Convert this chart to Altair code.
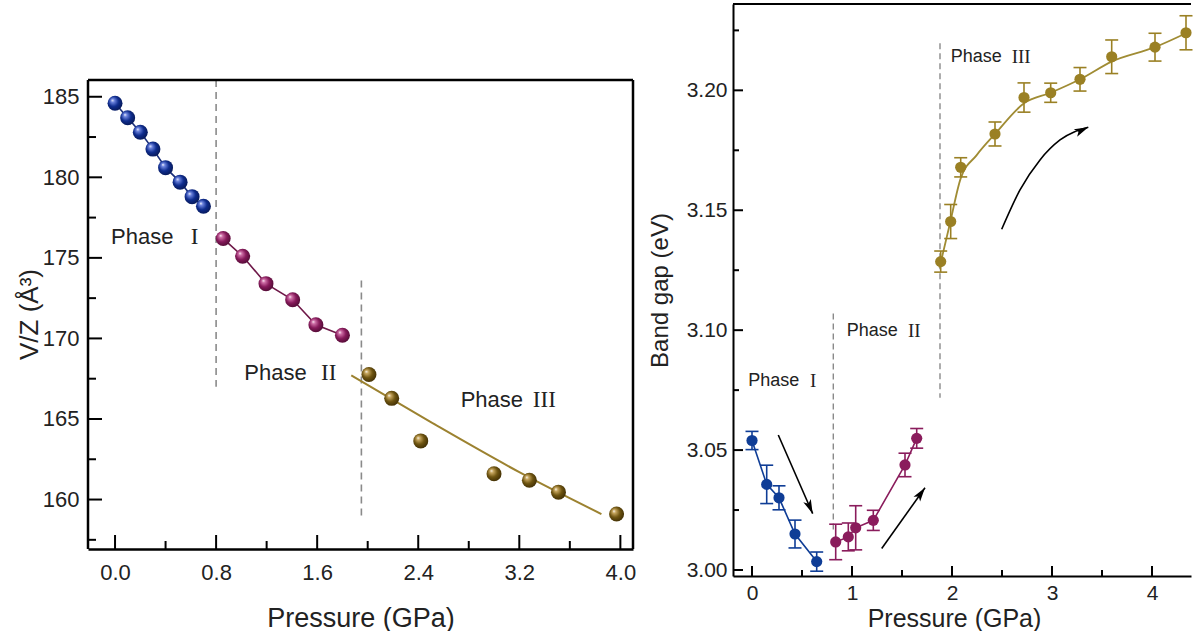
import math
import altair as alt
import pandas as pd

# ---------------- data: left panel (V/Z vs pressure) ----------------
L1_P = [0.0, 0.10, 0.20, 0.30, 0.40, 0.515, 0.61, 0.70]
L1_V = [184.6, 183.7, 182.8, 181.75, 180.6, 179.7, 178.8, 178.2]
L2_P = [0.856, 1.01, 1.195, 1.406, 1.59, 1.80]
L2_V = [176.2, 175.1, 173.4, 172.4, 170.85, 170.2]
L3_P = [2.01, 2.19, 2.42, 3.0, 3.28, 3.51, 3.97]
L3_V = [167.76, 166.28, 163.64, 161.6, 161.2, 160.46, 159.1]
LFIT_P = [1.87, 2.5, 3.2, 3.85]
LFIT_V = [167.7, 164.8, 161.7, 159.1]
L_DASH_P = [0.80, 1.95]
L_DASH_TOP = [186.04, 173.6]
L_DASH_BOT = [167.0, 159.0]
L_XTICKS = [0.0, 0.8, 1.6, 2.4, 3.2, 4.0]
L_XMINOR = [0.4, 1.2, 2.0, 2.8, 3.6]
L_YTICKS = [160, 165, 170, 175, 180, 185]
L_YMINOR = [157.5, 162.5, 167.5, 172.5, 177.5, 182.5]
L_LAB_WORD = ["Phase", "Phase", "Phase"]
L_LAB_NUM = ["I", "II", "III"]
L_LAB_P = [-0.032, 1.023, 2.736]
L_LAB_NUM_P = [0.600, 1.631, 3.307]
L_LAB_V = [176.28, 167.87, 166.15]

# ---------------- data: right panel (band gap vs pressure) ----------------
R1_P = [0.0, 0.147, 0.27, 0.43, 0.647]
R1_E = [3.054, 3.0357, 3.0301, 3.015, 3.0035]
R1_ERR = [0.0038, 0.008, 0.005, 0.0058, 0.004]
R2_P = [0.837, 0.963, 1.037, 1.213, 1.53, 1.647]
R2_E = [3.0117, 3.0138, 3.0176, 3.0207, 3.0438, 3.0549]
R2_ERR = [0.0074, 0.0058, 0.0092, 0.0042, 0.0049, 0.0041]
R3_P = [1.887, 1.987, 2.087, 2.43, 2.72, 2.987, 3.28, 3.597, 4.03, 4.34]
R3_E = [3.1286, 3.1453, 3.1679, 3.1818, 3.197, 3.199, 3.2046, 3.214, 3.218, 3.224]
R3_ERR = [0.0044, 0.0071, 0.004, 0.005, 0.0061, 0.004, 0.0049, 0.007, 0.0058, 0.0071]
RFIT_P = [1.875, 1.98, 2.087, 2.247, 2.43, 2.72, 2.987, 3.28, 3.597, 4.03, 4.34]
RFIT_E = [3.126, 3.1446, 3.1633, 3.173, 3.1818, 3.1946, 3.199, 3.2046, 3.212, 3.218, 3.2238]
R_DASH_P = [0.813, 1.88]
R_DASH_TOP = [3.107, 3.2196]
R_DASH_BOT = [3.016, 3.0718]
R_XTICKS = [0, 1, 2, 3, 4]
R_XMINOR = [0.5, 1.5, 2.5, 3.5]
R_YTICKS = [3.00, 3.05, 3.10, 3.15, 3.20]
R_YMINOR = [3.025, 3.075, 3.125, 3.175, 3.225]
R_LAB_NUM = ["I", "II", "III"]
R_LAB_P = [-0.037, 0.947, 1.987]
R_LAB_NUM_P = [0.58, 1.56, 2.597]
R_LAB_E = [3.079, 3.0996, 3.214]
# arrows: id, pressure, band gap (path in data coordinates)
ARROW_ID = [1, 1, 2, 2, 3, 3, 3, 3, 3]
ARROW_P = [0.263, 0.607, 1.297, 1.73, 2.497, 2.68, 2.88, 3.08, 3.363]
ARROW_E = [3.0563, 3.0235, 3.009, 3.0343, 3.1421, 3.1585, 3.171, 3.1793, 3.1846]

FONT = "Liberation Sans"
SERIF = "Liberation Serif"

# left panel: plot group starts at the top of the right panel; the framed box starts FT px lower
LW, LH, FT = 545, 545, 76
RW, RH = 458, 572
LXD = [-0.214, 4.10]
LYD = [156.93, 190.757]
RXD = [-0.19, 4.39]
RYD = [2.9975, 3.236]

lxs = alt.Scale(domain=LXD, nice=False, zero=False)
lys = alt.Scale(domain=LYD, nice=False, zero=False)
rxs = alt.Scale(domain=RXD, nice=False, zero=False)
rys = alt.Scale(domain=RYD, nice=False, zero=False)

l_xaxis = alt.Axis(values=L_XTICKS, format=".1f", ticks=False, tickSize=0, domain=True,
                   domainColor="black", domainWidth=2.5, grid=False, labelFontSize=22,
                   labelFont=FONT, labelColor="#222", labelPadding=13, labelFlush=False,
                   title="Pressure (GPa)", titleFont=FONT, titleFontSize=27,
                   titleFontWeight="normal", titleColor="#222", titlePadding=22)
l_yaxis = alt.Axis(values=L_YTICKS, format="d", ticks=False, tickSize=0, domain=False,
                   grid=False, labelFontSize=22,
                   labelFont=FONT, labelColor="#222", labelPadding=9, labelFlush=False,
                   title="V/Z (Å³)", titleFont=FONT, titleFontSize=26,
                   titleFontWeight="normal", titleColor="#222", titlePadding=0, titleY=310)
r_xaxis = alt.Axis(values=R_XTICKS, format="d", ticks=False, tickSize=0, domain=True,
                   domainColor="black", domainWidth=2, grid=False, labelFontSize=21,
                   labelFont=FONT, labelColor="#222", labelPadding=6, labelFlush=False,
                   title="Pressure (GPa)", titleFont=FONT, titleFontSize=25,
                   titleFontWeight="normal", titleColor="#222", titlePadding=3, titleX=221)
r_yaxis = alt.Axis(values=R_YTICKS, format=".2f", ticks=False, tickSize=0, domain=True,
                   domainColor="black", domainWidth=2, grid=False, labelFontSize=21,
                   labelFont=FONT, labelColor="#222", labelPadding=6, labelFlush=False,
                   title="Band gap (eV)", titleFont=FONT, titleFontSize=24,
                   titleFontWeight="normal", titleColor="#222", titlePadding=14)


def LX(f="x"):
    return alt.X(f + ":Q", scale=lxs, axis=l_xaxis)


def LY(f="y"):
    return alt.Y(f + ":Q", scale=lys, axis=l_yaxis)


def RX(f="x"):
    return alt.X(f + ":Q", scale=rxs, axis=r_xaxis)


def RY(f="y"):
    return alt.Y(f + ":Q", scale=rys, axis=r_yaxis)


def sphere(color, light, dark):
    return alt.Gradient(gradient="radial",
                        stops=[alt.GradientStop(color="#ffffff", offset=0.0),
                               alt.GradientStop(color=light, offset=0.18),
                               alt.GradientStop(color=color, offset=0.55),
                               alt.GradientStop(color=dark, offset=1.0)],
                        x1=0.32, y1=0.3, r1=0.0, x2=0.45, y2=0.45, r2=0.62)


# ---------------- left panel ----------------
ldf1 = pd.DataFrame({"x": L1_P, "y": L1_V})
ldf2 = pd.DataFrame({"x": L2_P, "y": L2_V})
ldf3 = pd.DataFrame({"x": L3_P, "y": L3_V})
lfit = pd.DataFrame({"x": LFIT_P, "y": LFIT_V})
ldash = pd.DataFrame({"x": L_DASH_P, "y": L_DASH_TOP, "y2": L_DASH_BOT})
llab = pd.DataFrame({"x": L_LAB_P, "xn": L_LAB_NUM_P, "y": L_LAB_V, "w": L_LAB_WORD, "n": L_LAB_NUM})

L_BLUE, L_PURP, L_BROWN = "#0e2c8e", "#86195a", "#6e5410"

left_layers = [
    alt.Chart(ldash).mark_rule(color="#8a8a8a", strokeWidth=1.6, strokeDash=[7, 5]).encode(
        x=LX(), y=LY(), y2="y2:Q"),
    alt.Chart(ldf1).mark_line(color="#1b2f7a", strokeWidth=1.6).encode(x=LX(), y=LY()),
    alt.Chart(ldf2).mark_line(color="#6e1848", strokeWidth=1.6).encode(x=LX(), y=LY()),
    alt.Chart(lfit).mark_line(color="#9c8230", strokeWidth=2, interpolate="monotone").encode(x=LX(), y=LY()),
]
for df, c, lt, dk in [(ldf1, L_BLUE, "#6f86e0", "#06164f"),
                      (ldf2, L_PURP, "#d070a8", "#4a0a30"),
                      (ldf3, L_BROWN, "#c9a860", "#3a2a04")]:
    left_layers.append(alt.Chart(df).mark_point(shape="circle", filled=True, size=225, opacity=1,
                                                fill=sphere(c, lt, dk), strokeWidth=0).encode(x=LX(), y=LY()))
left_layers += [
    alt.Chart(llab).mark_text(align="left", baseline="middle", font=FONT, fontSize=22, color="#222").encode(
        x=LX(), y=LY(), text="w:N"),
    alt.Chart(llab).mark_text(align="left", baseline="middle", font=SERIF, fontSize=23, color="#222").encode(
        x=LX("xn"), y=LY(), text="n:N"),
    # inward ticks
    alt.Chart(pd.DataFrame({"x": L_XTICKS})).mark_rule(color="black", strokeWidth=2).encode(
        x=LX(), y=alt.value(LH), y2=alt.value(LH - 14)),
    alt.Chart(pd.DataFrame({"x": L_XMINOR})).mark_rule(color="black", strokeWidth=2).encode(
        x=LX(), y=alt.value(LH), y2=alt.value(LH - 8)),
    alt.Chart(pd.DataFrame({"y": L_YTICKS})).mark_rule(color="black", strokeWidth=2).encode(
        y=LY(), x=alt.value(0), x2=alt.value(14)),
    alt.Chart(pd.DataFrame({"y": L_YMINOR})).mark_rule(color="black", strokeWidth=2).encode(
        y=LY(), x=alt.value(0), x2=alt.value(8)),
    # frame: top, left, right
    alt.Chart(pd.DataFrame({"y": [0]})).mark_rule(color="black", strokeWidth=2.5).encode(
        x=alt.value(0), x2=alt.value(LW), y=alt.value(FT)),
    alt.Chart(pd.DataFrame({"y": [0]})).mark_rule(color="black", strokeWidth=2.5).encode(
        x=alt.value(0), y=alt.value(FT), y2=alt.value(LH)),
    alt.Chart(pd.DataFrame({"y": [0]})).mark_rule(color="black", strokeWidth=2.5).encode(
        x=alt.value(LW), y=alt.value(FT), y2=alt.value(LH)),
]
left = alt.layer(*left_layers).properties(width=LW, height=LH)

# ---------------- right panel ----------------
def err_df(P, E, ERR):
    return pd.DataFrame({"x": P, "y": E, "lo": [e - d for e, d in zip(E, ERR)],
                         "hi": [e + d for e, d in zip(E, ERR)]})


rdf1 = err_df(R1_P, R1_E, R1_ERR)
rdf2 = err_df(R2_P, R2_E, R2_ERR)
rdf3 = err_df(R3_P, R3_E, R3_ERR)
rfit = pd.DataFrame({"x": RFIT_P, "y": RFIT_E})
rdash = pd.DataFrame({"x": R_DASH_P, "y": R_DASH_TOP, "y2": R_DASH_BOT})
rlab = pd.DataFrame({"x": R_LAB_P, "xn": R_LAB_NUM_P, "y": R_LAB_E, "w": ["Phase"] * 3, "n": R_LAB_NUM})
arr = pd.DataFrame({"id": ARROW_ID, "x": ARROW_P, "y": ARROW_E, "o": list(range(len(ARROW_ID)))})

# arrow head direction from the last segment of each arrow (in pixel space)
kx = RW / (RXD[1] - RXD[0])
ky = RH / (RYD[1] - RYD[0])
heads = []
for aid in sorted(set(ARROW_ID)):
    pts = arr[arr.id == aid]
    x0, y0 = pts.x.iloc[-2], pts.y.iloc[-2]
    x1, y1 = pts.x.iloc[-1], pts.y.iloc[-1]
    dx = (x1 - x0) * kx
    dy = -(y1 - y0) * ky
    ang = math.degrees(math.atan2(dx, -dy)) % 360
    heads.append({"x": x1, "y": y1, "ang": ang})
heads = pd.DataFrame(heads)
HEAD = "M0,0L-0.55,1.9L0,1.45L0.55,1.9Z"

R_BLUE, R_PURP, R_OLIVE = "#0f3d96", "#8a1c5c", "#9a8024"

right_layers = [
    alt.Chart(rdash).mark_rule(color="#8a8a8a", strokeWidth=1.4, strokeDash=[6, 4]).encode(
        x=RX(), y=RY(), y2="y2:Q"),
    alt.Chart(rdf1).mark_line(color=R_BLUE, strokeWidth=1.6).encode(x=RX(), y=RY()),
    alt.Chart(rdf2).mark_line(color=R_PURP, strokeWidth=1.6).encode(x=RX(), y=RY()),
    alt.Chart(rfit).mark_line(color="#a08c34", strokeWidth=1.8, interpolate="monotone").encode(x=RX(), y=RY()),
]
for df, c in [(rdf1, R_BLUE), (rdf2, R_PURP), (rdf3, R_OLIVE)]:
    right_layers += [
        alt.Chart(df).mark_rule(color=c, strokeWidth=1.6).encode(x=RX(), y=RY("lo"), y2="hi:Q"),
        alt.Chart(df).mark_rule(color=c, strokeWidth=1.6, xOffset=-6.5, x2Offset=6.5).encode(
            x=RX(), x2="x:Q", y=RY("lo")),
        alt.Chart(df).mark_rule(color=c, strokeWidth=1.6, xOffset=-6.5, x2Offset=6.5).encode(
            x=RX(), x2="x:Q", y=RY("hi")),
        alt.Chart(df).mark_circle(color=c, size=125, opacity=1).encode(x=RX(), y=RY()),
    ]
right_layers += [
    alt.Chart(arr).mark_line(color="black", strokeWidth=1.6, interpolate="monotone").encode(
        x=RX(), y=RY(), detail="id:N", order="o:Q"),
    alt.Chart(heads).mark_point(shape=HEAD, filled=True, fill="black", size=220, opacity=1,
                                strokeWidth=0).encode(
        x=RX(), y=RY(), angle=alt.Angle("ang:Q", scale=None)),
    alt.Chart(rlab).mark_text(align="left", baseline="middle", font=FONT, fontSize=18, color="#222").encode(
        x=RX(), y=RY(), text="w:N"),
    alt.Chart(rlab).mark_text(align="left", baseline="middle", font=SERIF, fontSize=19, color="#222").encode(
        x=RX("xn"), y=RY(), text="n:N"),
    alt.Chart(pd.DataFrame({"x": R_XTICKS})).mark_rule(color="black", strokeWidth=2).encode(
        x=RX(), y=alt.value(RH), y2=alt.value(RH - 10)),
    alt.Chart(pd.DataFrame({"x": R_XMINOR})).mark_rule(color="black", strokeWidth=2).encode(
        x=RX(), y=alt.value(RH), y2=alt.value(RH - 6)),
    alt.Chart(pd.DataFrame({"y": R_YTICKS})).mark_rule(color="black", strokeWidth=2).encode(
        y=RY(), x=alt.value(0), x2=alt.value(10)),
    alt.Chart(pd.DataFrame({"y": R_YMINOR})).mark_rule(color="black", strokeWidth=2).encode(
        y=RY(), x=alt.value(0), x2=alt.value(6)),
    alt.Chart(pd.DataFrame({"y": [0]})).mark_rule(color="black", strokeWidth=2).encode(
        x=alt.value(0), x2=alt.value(RW), y=alt.value(0)),
]
right = alt.layer(*right_layers).properties(width=RW, height=RH)

chart = alt.hconcat(left, right, spacing=12).properties(
    padding={"left": 16, "top": 3, "right": 0, "bottom": 0},
    background="white",
).configure_view(stroke=None).configure_concat(spacing=12)

chart.save("out.html", embed_options={"renderer": "svg", "actions": False})
